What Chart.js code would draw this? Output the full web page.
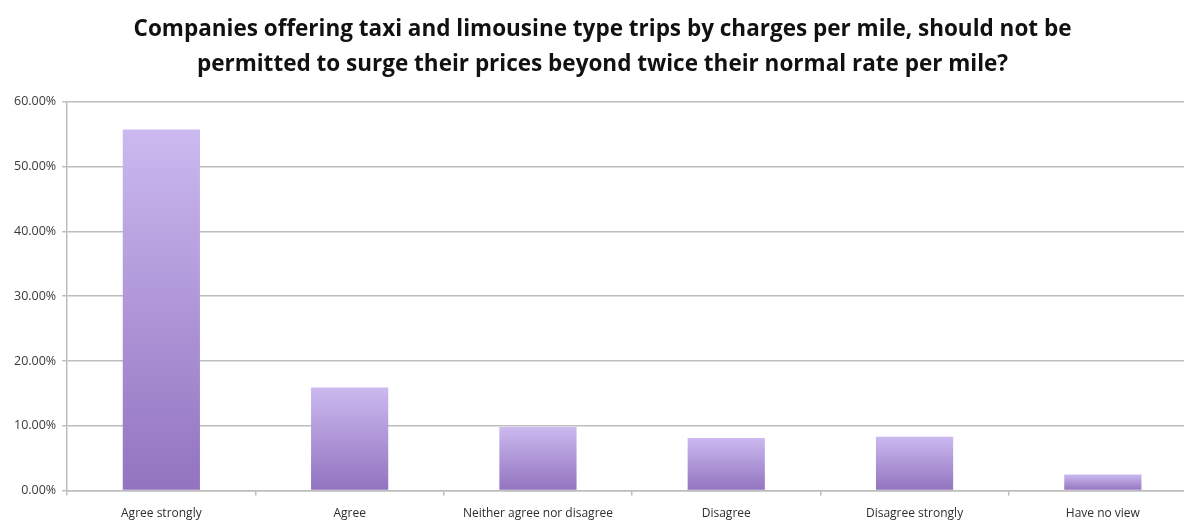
<!DOCTYPE html>
<html>
<head>
<meta charset="utf-8">
<script src="https://cdn.jsdelivr.net/npm/chart.js@4.4.1/dist/chart.umd.min.js"></script>
<style>
  html, body { margin: 0; padding: 0; background: #fff; overflow: hidden; }
  #wrap { position: relative; width: 1215px; height: 521px; }
</style>
</head>
<body>
<div id="wrap"><canvas id="surgeChart"></canvas></div>
<script>
  const titleLines = [
    'Companies offering taxi and limousine type trips by charges per mile, should not be',
    'permitted to surge their prices beyond twice their normal rate per mile?'
  ];
  const categories = ['Agree strongly', 'Agree', 'Neither agree nor disagree', 'Disagree', 'Disagree strongly', 'Have no view'];
  const shares = [0.557, 0.159, 0.098, 0.081, 0.083, 0.025];
  const yTicks = [0, 0.1, 0.2, 0.3, 0.4, 0.5, 0.6];

  // light lavender at the top of each bar fading to a deeper purple at its base
  function barGradient(ctx) {
    const chart = ctx.chart;
    const y = chart.scales && chart.scales.y;
    if (!chart.chartArea || !y || ctx.raw == null) return '#b39ddb';
    const top = y.getPixelForValue(ctx.raw);
    const bottom = y.getPixelForValue(0);
    const g = chart.ctx.createLinearGradient(0, top, 0, bottom);
    g.addColorStop(0, '#cbb9ef');
    g.addColorStop(1, '#9273bf');
    return g;
  }

  const gridGrey = '#bdbdbd';

  new Chart(document.getElementById('surgeChart'), {
    type: 'bar',
    data: {
      labels: categories,
      datasets: [{
        data: shares,
        backgroundColor: barGradient,
        borderWidth: 0,
        barPercentage: 0.41,
        categoryPercentage: 1
      }]
    },
    options: {
      responsive: true,
      maintainAspectRatio: false,
      animation: false,
      layout: { padding: { left: 8, right: 18, top: 0, bottom: -11 } },
      plugins: {
        legend: { display: false },
        tooltip: { enabled: false },
        title: {
          display: true,
          text: titleLines,
          color: '#111',
          font: { family: 'Open Sans', size: 22.5, weight: 'bold', lineHeight: 1.55 },
          padding: { top: 12, bottom: 20 }
        }
      },
      scales: {
        y: {
          min: 0,
          max: 0.6,
          afterBuildTicks: (axis) => { axis.ticks = yTicks.map((v) => ({ value: v })); },
          ticks: {
            color: '#3a3a3a',
            font: { family: 'Open Sans', size: 12.5 },
            padding: 6,
            callback: (v) => (v * 100).toFixed(2) + '%'
          },
          grid: { color: gridGrey, lineWidth: 1.5, tickLength: 5 },
          border: { display: true, color: gridGrey, width: 1.5 }
        },
        x: {
          ticks: {
            color: '#2e2e2e',
            font: { family: 'Open Sans', size: 12 },
            padding: 11,
            maxRotation: 0
          },
          grid: { offset: true, drawOnChartArea: false, drawTicks: true, tickLength: 5, color: gridGrey, lineWidth: 1.5 },
          border: { display: true, color: gridGrey, width: 1.5 }
        }
      }
    }
  });
</script>
</body>
</html>
